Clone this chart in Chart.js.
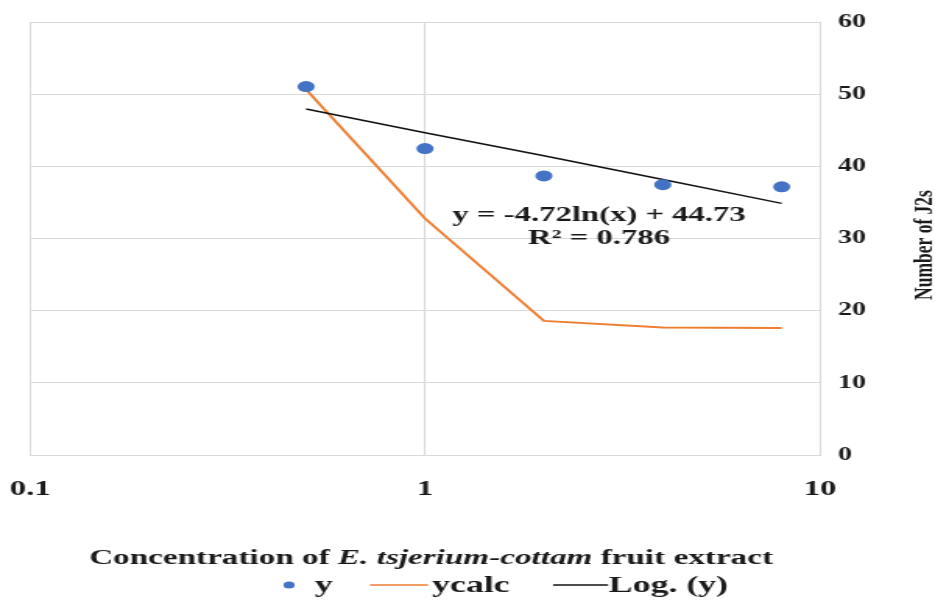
<!DOCTYPE html>
<html>
<head>
<meta charset="utf-8">
<script src="https://cdn.jsdelivr.net/npm/chart.js@4/dist/chart.umd.min.js"></script>
<style>
  html, body { margin: 0; padding: 0; background: #ffffff; overflow: hidden; }
  #wrap { width: 600px; height: 600px; transform: scaleX(1.5583); transform-origin: 0 0; }
</style>
</head>
<body>
<div id="wrap"><canvas id="c" width="600" height="600"></canvas></div>
<script>
// ---- data ----
const concentrations = [0.5, 1, 2, 4, 8];
const yObserved      = [51.1, 42.5, 38.7, 37.5, 37.2];
const yCalc          = [50.7, 32.8, 18.6, 17.7, 17.6];
const yLogTrend      = [48.0, 44.7, 41.5, 38.2, 34.9];
const xTickValues    = [0.1, 1, 10];
const xTickLabels    = ['0.1', '1', '10'];
const yTickLabels    = ['0', '10', '20', '30', '40', '50', '60'];
const seriesLabels   = ['y', 'ycalc', 'Log. (y)'];
const equationLines  = ['y = -4.72ln(x) + 44.73', 'R\u00B2 = 0.786'];
const xTitleParts    = [['Concentration of ', false], ['E. tsjerium-cottam', true], [' fruit extract', false]];
const yTitle         = 'Number of J2s';

const FONT = "'Liberation Serif', 'Times New Roman', serif";
const TEXT = '#1a1a1a';
const GRID = '#d9d9d9';
const BLUE = '#4472C4';
const ORANGE = '#ED7D31';

const toPts = arr => concentrations.map((x, i) => ({ x: x, y: arr[i] }));

const extras = {
  id: 'extras',
  afterDraw(chart) {
    const ctx = chart.ctx;
    ctx.save();
    ctx.fillStyle = TEXT;
    ctx.textBaseline = 'middle';

    // trendline equation
    ctx.font = 'bold 21px ' + FONT;
    ctx.textAlign = 'center';
    ctx.fillText(equationLines[0], 384.4, 216);
    ctx.fillText(equationLines[1], 384.4, 239);

    // y axis title (right, reading bottom to top)
    ctx.save();
    ctx.translate(593.6, 245);
    ctx.rotate(-Math.PI / 2);
    ctx.font = 'bold 17.5px ' + FONT;
    ctx.textAlign = 'center';
    ctx.fillText(yTitle, 0, 0);
    ctx.restore();

    // x axis title with italic species name
    ctx.textAlign = 'left';
    const tf = 'bold 21.3px ' + FONT;
    let total = 0;
    const widths = xTitleParts.map(([t, it]) => {
      ctx.font = (it ? 'italic ' : '') + tf;
      const w = ctx.measureText(t).width; total += w; return w;
    });
    let xx = 276.6 - total / 2;
    xTitleParts.forEach(([t, it], i) => {
      ctx.font = (it ? 'italic ' : '') + tf;
      ctx.fillText(t, xx, 558);
      xx += widths[i];
    });

    // legend
    const ly = 586;
    const ds = chart.data.datasets;
    ctx.font = 'bold 23px ' + FONT;
    ctx.fillStyle = ds[0].backgroundColor;
    ctx.beginPath(); ctx.arc(185.5, ly - 1, 3.6, 0, Math.PI * 2); ctx.fill();
    ctx.fillStyle = TEXT;
    ctx.fillText(ds[0].label, 202, ly);
    ctx.strokeStyle = ds[1].borderColor; ctx.lineWidth = 1.6;
    ctx.beginPath(); ctx.moveTo(237.4, ly - 1); ctx.lineTo(274.7, ly - 1); ctx.stroke();
    ctx.fillText(ds[1].label, 277.2, ly);
    ctx.strokeStyle = ds[2].borderColor; ctx.lineWidth = 1.3;
    ctx.beginPath(); ctx.moveTo(354.9, ly - 1); ctx.lineTo(390.2, ly - 1); ctx.stroke();
    ctx.fillText(ds[2].label, 390.6, ly);

    ctx.restore();
  }
};

new Chart(document.getElementById('c'), {
  type: 'scatter',
  data: {
    datasets: [
      {
        label: seriesLabels[0],
        data: toPts(yObserved),
        showLine: false,
        backgroundColor: BLUE,
        borderColor: BLUE,
        pointRadius: 5.5,
        pointBorderWidth: 0,
        order: 0
      },
      {
        label: seriesLabels[1],
        data: toPts(yCalc),
        showLine: true,
        borderColor: ORANGE,
        backgroundColor: ORANGE,
        borderWidth: 2,
        pointRadius: 0,
        tension: 0,
        order: 2
      },
      {
        label: seriesLabels[2],
        data: toPts(yLogTrend),
        showLine: true,
        borderColor: '#111111',
        backgroundColor: '#111111',
        borderWidth: 1.5,
        pointRadius: 0,
        tension: 0,
        order: 1
      }
    ]
  },
  options: {
    responsive: false,
    animation: false,
    devicePixelRatio: 1,
    layout: { padding: { left: 19.25, top: 22, right: 0, bottom: 0 } },
    plugins: { legend: { display: false }, tooltip: { enabled: false } },
    scales: {
      x: {
        type: 'logarithmic',
        min: 0.1,
        max: 10,
        afterBuildTicks: s => { s.ticks = xTickValues.map(v => ({ value: v })); },
        afterFit: s => { s.height = 145; s.paddingLeft = 0; s.paddingRight = 0; },
        ticks: {
          autoSkip: false,
          maxRotation: 0,
          padding: 22,
          color: TEXT,
          font: { family: FONT, size: 21, weight: 'bold' },
          callback: (v) => { const i = xTickValues.indexOf(v); return i >= 0 ? xTickLabels[i] : ''; }
        },
        grid: { color: GRID, lineWidth: 1, drawTicks: false },
        border: { color: GRID, width: 1 }
      },
      y: {
        type: 'linear',
        position: 'right',
        min: 0,
        max: 60,
        afterFit: s => { s.width = 73.8; },
        ticks: {
          stepSize: 10,
          padding: 11.6,
          color: TEXT,
          font: { family: FONT, size: 18, weight: 'bold' },
          callback: (v) => yTickLabels[Math.round(v / 10)]
        },
        grid: { color: GRID, lineWidth: 1, drawTicks: false },
        border: { color: GRID, width: 1 }
      }
    }
  },
  plugins: [extras]
});
</script>
</body>
</html>
